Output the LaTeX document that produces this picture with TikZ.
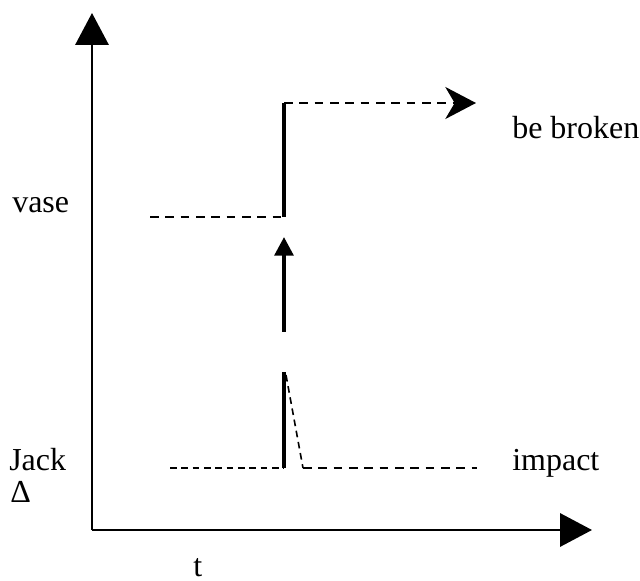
\documentclass[tikz,border=0pt]{standalone}
\usepackage{fontspec}
\setmainfont{Liberation Serif}
\usetikzlibrary{arrows.meta}
\tikzset{
  px/.style={x=0.75pt,y=-0.75pt},
  lbl/.style={anchor=base west,inner sep=0pt,font=\fontsize{24}{28}\selectfont},
  axisline/.style={line width=1.7pt,-{Triangle[length=24pt,width=25pt]}},
  thickline/.style={line width=3pt},
  dashline/.style={line width=1.8pt,dash pattern=on 6.5pt off 5pt},
  thindash/.style={line width=1.2pt,dash pattern=on 5pt off 3.5pt},
  upstealth/.style={dashline,-{Stealth[length=23pt,width=24pt,inset=7pt]}},
  midarrow/.style={line width=3pt,-{Triangle[length=14pt,width=14pt]}}
}
\begin{document}
\begin{tikzpicture}[px]
\useasboundingbox (0,0) rectangle (640,581);
% coordinates
\coordinate (O) at (92,530);
\coordinate (Ytop) at (92,13);
\coordinate (Xend) at (592,530);
\coordinate (vs) at (150,217);
\coordinate (vj) at (284,217);
\coordinate (vt) at (284,103);
\coordinate (ve) at (476,103);
\coordinate (ma) at (284,332);
\coordinate (mb) at (284,237);
\coordinate (js) at (170,468);
\coordinate (jj) at (284,468);
\coordinate (jt) at (284,372);
\coordinate (jd) at (286,375);
\coordinate (jf) at (303,468);
\coordinate (je) at (477,468);
% axes
\draw[axisline] (O) -- (Ytop);
\draw[axisline] (O) -- (Xend);
% vase
\draw[dashline] (vs) -- (vj);
\draw[thickline] (vj) -- (vt);
\draw[upstealth] (vt) -- (ve);
% middle arrow
\draw[midarrow] (ma) -- (mb);
% Jack
\draw[thindash] (js) -- (jj);
\draw[thickline] (jj) -- (jt);
\draw[thindash] (jd) -- (jf);
\draw[dashline] (jf) -- (je);
% labels
\node[lbl] (vase) at (12,213) {vase};
\node[lbl] (jack) at (9,470) {Jack};
\node[lbl] (delta) at (10,503) {Δ};
\node[lbl] (impact) at (512,470) {impact};
\node[lbl] (broken) at (512,139) {be broken};
\node[lbl] (t) at (193,576) {t};
\end{tikzpicture}
\end{document}
